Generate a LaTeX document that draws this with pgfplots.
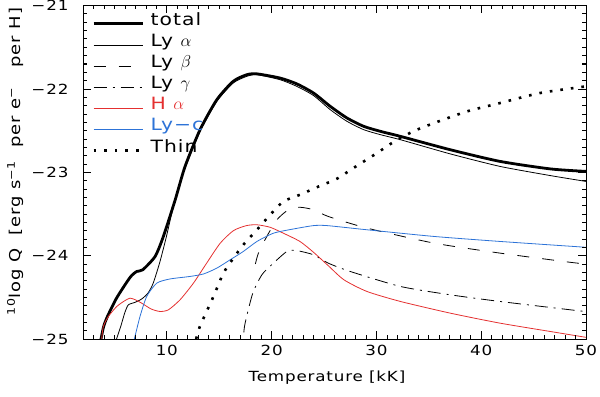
\documentclass[border=0pt]{standalone}
\usepackage{fontspec}
\setmainfont{DejaVu Sans}[FakeStretch=1.2, LetterSpace=6]
\usepackage{pgfplots}
\pgfplotsset{compat=1.18}
\definecolor{hared}{RGB}{228,48,48}
\definecolor{lycblue}{RGB}{45,115,215}
\begin{document}
\begin{tikzpicture}
\useasboundingbox (0,0) rectangle (600bp,397bp);
\begin{axis}[
  at={(83bp,58bp)}, anchor=south west,
  scale only axis, width=503bp, height=333.5bp,
  xmin=2, xmax=50, ymin=-25, ymax=-21,
  xtick={10,20,30,40,50}, xticklabels={10,20,30,40,50},
  ytick={-25,-24,-23,-22,-21}, yticklabels={−25,−24,−23,−22,−21},
  minor x tick num=9, minor y tick num=9,
  tick align=inside,
  major tick length=8bp, minor tick length=4bp,
  tick style={black, line width=0.7bp},
  axis line style={line width=0.9bp},
  ticklabel style={font=\fontsize{14}{16}\selectfont},
  yticklabel style={xshift=-11bp},
  xticklabel style={yshift=-3bp},
  xlabel={Temperature [kK]},
  ylabel={\textsuperscript{10}log Q \ [erg s\textsuperscript{−1} \ per e\textsuperscript{−} \ \ per H]},
  xlabel style={font=\fontsize{14}{16}\selectfont, at={(axis description cs:0.485,-0.115)}, anchor=center},
  ylabel style={font=\fontsize{15}{17}\selectfont, at={(axis description cs:-0.135,0.532)}, anchor=center},
  legend style={draw=none, fill=none, at={(0.018,0.985)}, anchor=north west,
    font=\fontsize{17}{20.5}\selectfont, row sep=3.2bp, inner sep=0pt},
  legend cell align=left,
  legend image code/.code={\path[draw=none, fill=none] (0bp,6bp) rectangle (55bp,-6bp); \draw[#1] (0bp,-4bp) -- (49bp,-4bp);},
  after end axis/.code={
    \foreach \i in {3,...,49}{
      \draw[black, line width=0.7bp] (axis cs:\i,-25) -- ++(0,4bp);
      \draw[black, line width=0.7bp] (axis cs:\i,-21) -- ++(0,-4bp);
    }
    \foreach \i in {10,20,30,40}{
      \draw[black, line width=0.7bp] (axis cs:\i,-25) -- ++(0,8bp);
      \draw[black, line width=0.7bp] (axis cs:\i,-21) -- ++(0,-8bp);
    }
    \foreach \i in {1,...,39}{
      \pgfmathsetmacro{\yy}{-25+0.1*\i}
      \draw[black, line width=0.7bp] (axis cs:2,\yy) -- ++(4bp,0);
      \draw[black, line width=0.7bp] (axis cs:50,\yy) -- ++(-4bp,0);
    }
    \foreach \i in {-24,-23,-22}{
      \draw[black, line width=0.7bp] (axis cs:2,\i) -- ++(8bp,0);
      \draw[black, line width=0.7bp] (axis cs:50,\i) -- ++(-8bp,0);
    }
  },
]
\addplot[black, line width=2.8bp, smooth, tension=0.4] coordinates {
(3.72,-25.0) (3.95,-24.86) (4.26,-24.75) (5.2,-24.51) (6.5,-24.26) (7.13,-24.19)
(7.7,-24.17) (8.88,-24.01) (9.67,-23.77) (10.8,-23.33) (11.74,-22.93) (13.17,-22.49)
(14.77,-22.13) (16.33,-21.91) (17.63,-21.83) (18.6,-21.82) (20.8,-21.87) (22.4,-21.94)
(24.0,-22.05) (25.6,-22.21) (27.2,-22.35) (28.8,-22.45) (30.4,-22.51) (32.3,-22.57)
(37.05,-22.73) (41.8,-22.87) (46.6,-22.96) (50,-22.99)};
\addlegendentry{total}
\addplot[black, line width=0.8bp, smooth, tension=0.4] coordinates {
(5.2,-25.0) (5.6,-24.85) (6.0,-24.68) (6.33,-24.59) (6.97,-24.56) (7.6,-24.52)
(8.2,-24.45) (8.7,-24.33) (9.35,-24.07) (10.0,-23.75) (10.6,-23.42) (11.2,-23.14)
(11.9,-22.90) (13.17,-22.51) (14.77,-22.15) (16.33,-21.93) (17.63,-21.85) (18.6,-21.83)
(20.8,-21.89) (22.4,-21.97) (24.0,-22.08) (25.6,-22.25) (27.2,-22.39) (28.8,-22.49)
(30.4,-22.55) (32.3,-22.61) (37.05,-22.78) (41.8,-22.93) (46.6,-23.04) (50,-23.11)};
\addlegendentry{Ly $\alpha$}
\addplot[black, line width=0.8bp, dash pattern=on 12bp off 13bp, smooth, tension=0.4] coordinates {
(18.45,-24.10) (18.74,-23.97) (19.54,-23.77) (20.5,-23.57) (21.6,-23.45) (22.7,-23.42)
(24.0,-23.45) (25.4,-23.53) (29.1,-23.67) (35.5,-23.85) (41.8,-23.97) (48.5,-24.08) (50,-24.10)};
\addlegendentry{Ly $\beta$}
\addplot[black, line width=0.8bp, dash pattern=on 13bp off 6bp on 2bp off 6bp, smooth, tension=0.4] coordinates {
(17.35,-24.92) (17.47,-24.81) (18.2,-24.45) (19.07,-24.23) (20.0,-24.11) (21.46,-23.95)
(22.4,-23.94) (24.0,-23.99) (25.4,-24.09) (27.5,-24.19) (32.3,-24.37) (37.05,-24.47)
(41.8,-24.55) (49.2,-24.66) (50,-24.67)};
\addlegendentry{Ly $\gamma$}
\addplot[hared, line width=0.8bp, smooth, tension=0.4] coordinates {
(3.78,-25.0) (3.94,-24.85) (4.42,-24.73) (5.22,-24.61) (6.0,-24.54) (6.49,-24.51)
(7.0,-24.53) (7.6,-24.57) (8.5,-24.64) (9.35,-24.67) (10.15,-24.65) (11.26,-24.53)
(12.54,-24.33) (13.8,-24.09) (15.1,-23.85) (16.36,-23.70) (17.6,-23.64) (18.6,-23.63)
(19.86,-23.66) (21.1,-23.73) (22.7,-23.83) (24.0,-23.96) (25.4,-24.12) (26.9,-24.29)
(29.1,-24.43) (32.3,-24.55) (37.05,-24.69) (41.8,-24.81) (46.6,-24.91) (50,-24.98)};
\addlegendentry{\color{hared}H $\alpha$}
\addplot[lycblue, line width=0.8bp, smooth, tension=0.4] coordinates {
(6.9,-25.0) (7.44,-24.73) (8.08,-24.49) (9.04,-24.33) (10.3,-24.28) (12.2,-24.25)
(13.5,-24.22) (14.77,-24.15) (16.04,-24.05) (17.3,-23.95) (18.6,-23.83) (20.2,-23.73)
(22.1,-23.68) (24.0,-23.64) (25.3,-23.64) (29.1,-23.69) (35.5,-23.77) (41.8,-23.83) (50,-23.90)};
\addlegendentry{\color{lycblue}Ly−c}
\addplot[black, line width=2.6bp, dash pattern=on 2.6bp off 8bp, smooth, tension=0.4] coordinates {
(12.8,-25.0) (13.15,-24.85) (14.45,-24.49) (15.4,-24.21) (16.36,-24.03) (17.3,-23.87)
(18.6,-23.69) (19.86,-23.51) (21.13,-23.35) (22.7,-23.27) (24.5,-23.17) (26.2,-23.08)
(27.8,-22.95) (30.05,-22.77) (31.6,-22.64) (33.5,-22.51) (35.5,-22.41) (38.65,-22.27)
(41.8,-22.17) (45.6,-22.05) (50,-21.97)};
\addlegendentry{Thin}
\end{axis}
\end{tikzpicture}
\end{document}
